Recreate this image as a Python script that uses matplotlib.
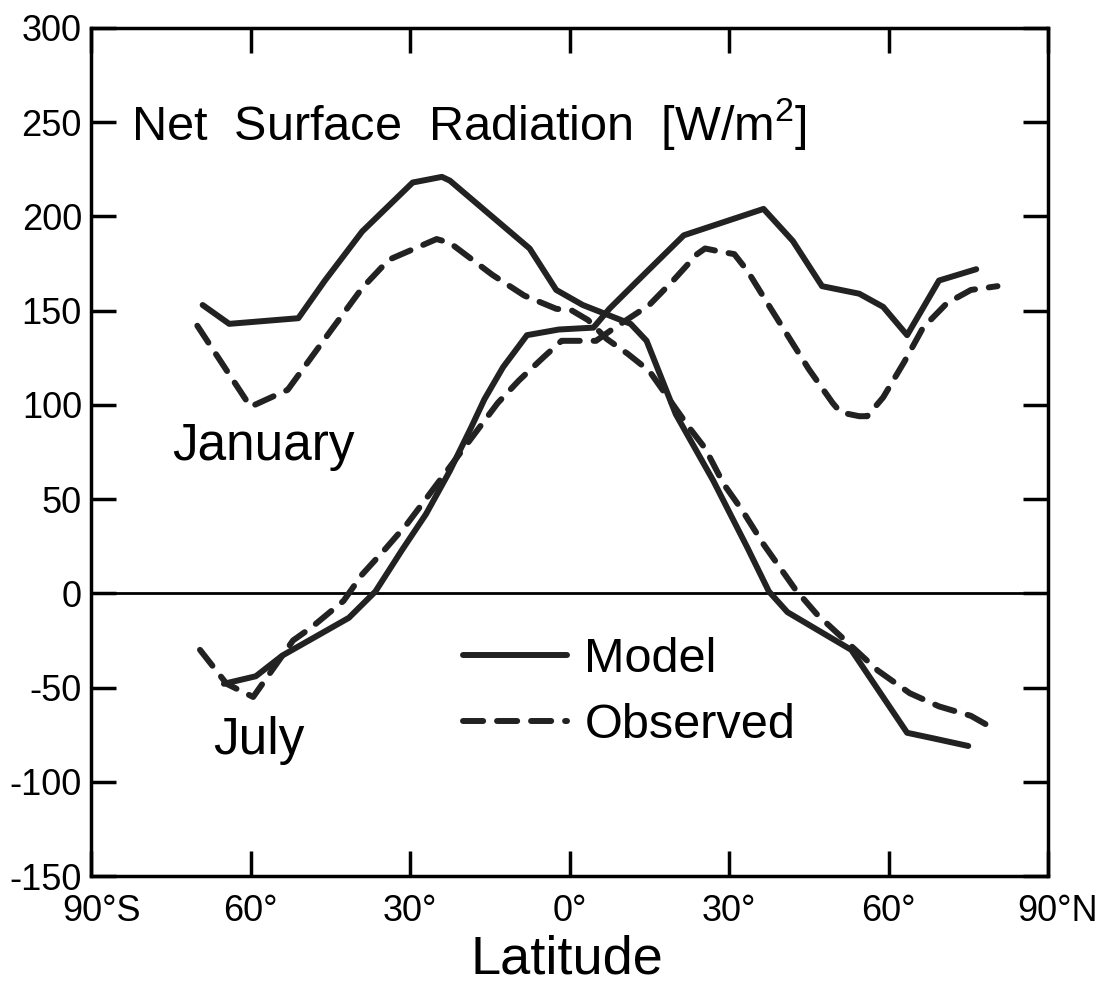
import matplotlib
matplotlib.use('Agg')
import matplotlib.pyplot as plt
import matplotlib.transforms as mtrans

# ---------------- data ----------------
jan_model_lat = [-69, -64, -51, -46, -39, -29.5, -24, -22.5, -7.5, -2.5, 2.5, 7, 11.5, 14.5,
                 20, 27, 33.5, 37.5, 41, 53, 63.5, 68.5, 75]
jan_model_val = [153, 143, 146, 166, 192, 218, 221, 219, 183, 161, 153, 148, 143, 134,
                 95, 60, 24, 1, -10, -30, -74, -77, -81]

jan_obs_lat = [-70, -60, -53, -45, -39, -34, -25, -22.5, -14.5, -8.5, -2.5, 0.5, 3.5, 7, 9.5,
               11, 15, 22.5, 25.5, 29, 32.5, 36.5, 42.5, 46.5, 58, 64, 69.5, 75.5, 80.5]
jan_obs_val = [142, 99, 108, 139, 162, 177, 188, 186, 169, 158, 151, 150, 145, 135, 130,
               127, 118, 88, 77, 58, 44, 26, 2, -11, -41, -53, -60, -65, -73]

jul_model_lat = [-65, -59, -54, -41.5, -36.5, -31.5, -27, -22.5, -18.5, -16, -12.5, -8, -2,
                 4.5, 7.5, 12.5, 21.5, 36.5, 42, 47.5, 54.5, 59, 63.5, 69.5, 76.5]
jul_model_val = [-48, -44, -33, -13, 1, 23, 42, 65, 88, 103, 120, 137, 140,
                 141, 151, 165, 190, 204, 187, 163, 159, 152, 137, 166, 172]

jul_obs_lat = [-69.5, -64.5, -59.5, -52, -48.5, -42.5, -39, -34.5, -30.5, -26.5, -22, -13.5,
               -9.5, -5, -1.5, 3.5, 5, 8, 15, 19.5, 24, 25.5, 29, 31, 33.5, 37, 41, 45, 49.5,
               51, 54.5, 56, 59, 63, 66.5, 71, 75.5, 80.5]
jul_obs_val = [-30, -48, -55, -25, -18, -4, 10, 24, 37, 52, 69, 101,
               113, 125, 134, 134, 134, 140, 153, 166, 180, 183, 181, 180, 171, 155, 137, 119, 101,
               96, 94, 94, 104, 123, 141, 154, 161, 163]

xtick_pos = [-90, -60, -30, 0, 30, 60, 90]
xtick_labels = ['90°S', '60°', '30°', '0°', '30°', '60°', '90°N']
ytick_pos = [-150, -100, -50, 0, 50, 100, 150, 200, 250, 300]
ytick_labels = ['-150', '-100', '-50', '0', '50', '100', '150', '200', '250', '300']

# ---------------- style ----------------
plt.rcParams['font.family'] = ['Liberation Sans', 'DejaVu Sans']
plt.rcParams['mathtext.fontset'] = 'custom'
plt.rcParams['mathtext.rm'] = 'Liberation Sans'
plt.rcParams['mathtext.it'] = 'Liberation Sans:italic'
plt.rcParams['mathtext.bf'] = 'Liberation Sans:bold'
plt.rcParams['axes.unicode_minus'] = False
plt.rcParams['lines.scale_dashes'] = False

fig = plt.figure(figsize=(10.98, 9.82), dpi=100)
ax = fig.add_axes([91 / 1098, 1 - 876 / 982, 957 / 1098, 848 / 982])

line_color = '#222222'
lw = 4.3
dash = (0, (14.5, 10))
solid_kw = dict(color=line_color, lw=lw, solid_capstyle='round', solid_joinstyle='round')
dash_kw = dict(color=line_color, lw=lw, linestyle=dash, dash_capstyle='round',
               dash_joinstyle='round')

ax.axhline(0, color='black', lw=2, zorder=1)
ax.plot(jan_model_lat, jan_model_val, label='Model', **solid_kw)
ax.plot(jan_obs_lat, jan_obs_val, label='Observed', **dash_kw)
ax.plot(jul_model_lat, jul_model_val, **solid_kw)
ax.plot(jul_obs_lat, jul_obs_val, **dash_kw)

ax.set_xlim(-90, 90)
ax.set_ylim(-150, 300)
ax.set_xticks(xtick_pos)
ax.set_xticklabels(xtick_labels)
ax.set_yticks(ytick_pos)
ax.set_yticklabels(ytick_labels)
ax.tick_params(direction='in', length=18, width=2.5, top=True, right=True,
               labelsize=26, colors='black')
ax.tick_params(axis='x', pad=13)
ax.tick_params(axis='y', pad=6.5)
for s in ax.spines.values():
    s.set_linewidth(2.5)

off = mtrans.ScaledTranslation(0.1, 0, fig.dpi_scale_trans)
xl = ax.get_xticklabels()
for lab in (xl[0], xl[-1]):
    lab.set_transform(lab.get_transform() + off)

ax.set_xlabel('Latitude', fontsize=39)
ax.xaxis.set_label_coords(0.497, -0.0684)

ax.text(-82.5, 240.6, 'Net  Surface  Radiation  [W/m$^{\\mathrm{2}}$]', fontsize=35,
        ha='left', va='baseline')
ax.text(-74.8, 70.7, 'January', fontsize=37, ha='left', va='baseline')
ax.text(-67.1, -85.3, 'July', fontsize=37, ha='left', va='baseline')

ax.legend(loc='upper left', bbox_to_anchor=(0.389, 0.282), frameon=False, fontsize=35,
          handlelength=2.14, handletextpad=0.35, labelspacing=0.43, borderpad=0,
          borderaxespad=0)

fig.savefig('out.png', dpi=100)
